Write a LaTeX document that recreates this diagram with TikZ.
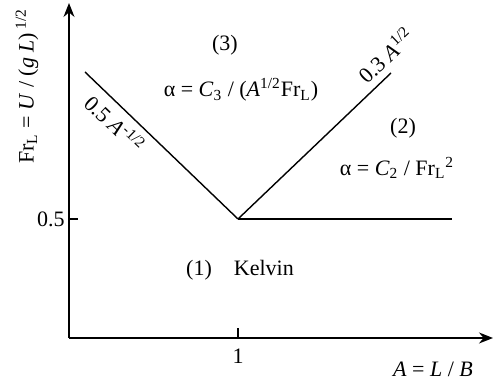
\documentclass[tikz,border=0pt]{standalone}
\usepackage{fontspec}
\setmainfont{Liberation Serif}
\usetikzlibrary{arrows.meta}

\begin{document}
\begin{tikzpicture}[x=0.5pt, y=0.5pt, font=\fontsize{11}{13}\selectfont,
  axis/.style={line width=0.7pt, -{Stealth[length=7pt, width=5.5pt]}},
  bound/.style={line width=0.7pt},
  tick/.style={line width=0.7pt},
]
\useasboundingbox (-69,-46) rectangle (424,338);
% axes
\coordinate (O) at (0,0);
\coordinate (Ytop) at (0,335);
\coordinate (Xend) at (424,0);
\draw[axis] (O) -- (Ytop);
\draw[axis] (O) -- (Xend);
\coordinate (T05) at (0,119);
\coordinate (T05e) at (9,119);
\coordinate (T1) at (169,0);
\coordinate (T1e) at (169,10);
\draw[tick] (T05) -- (T05e);
\draw[tick] (T1) -- (T1e);
\node[anchor=east, inner sep=2pt] (lab05) at (T05) {0.5};
\node (lab1) at (169,-18) {1};
\node (xlab) at (364,-31) {\textit{A} = \textit{L} / \textit{B}};
\node[rotate=90] (ylab) at (-42,252) {Fr\textsubscript{L} = \textit{U} / (\textit{g L})\,\textsuperscript{1/2}};
% region boundaries
\coordinate (V) at (169,119);
\coordinate (Lend) at (16,266);
\coordinate (Rend) at (322,265);
\coordinate (Hend) at (383,119);
\draw[bound] (Lend) -- node[sloped, below, pos=0.27] (lblL) {0.5 \textit{A}\textsuperscript{-1/2}} (V);
\draw[bound] (V) -- node[sloped, above, pos=1.04] (lblR) {0.3 \textit{A}\textsuperscript{1/2}} (Rend);
\draw[bound] (V) -- (Hend);
% regions
\node (r3) at (156,293) {(3)};
\node (eq3) at (172,248) {α = \textit{C}\textsubscript{3} / (\textit{A}\textsuperscript{1/2}Fr\textsubscript{L})};
\node (r2) at (334,210) {(2)};
\node (eq2) at (328,170) {α = \textit{C}\textsubscript{2} / Fr\textsubscript{L}\textsuperscript{2}};
\node (r1) at (171,68) {(1)\quad Kelvin};
\end{tikzpicture}
\end{document}
